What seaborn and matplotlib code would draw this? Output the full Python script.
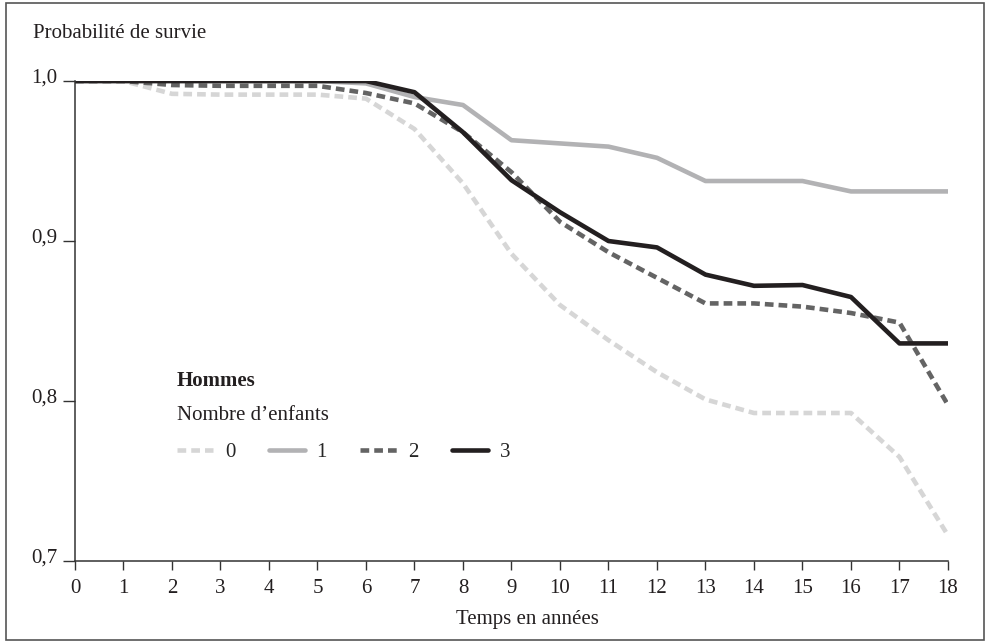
import numpy as np
import pandas as pd
import matplotlib
matplotlib.use("Agg")
import matplotlib.pyplot as plt
import matplotlib.transforms as mtransforms
from matplotlib.lines import Line2D
from matplotlib.patches import Rectangle
import seaborn as sns

# données
annees = list(range(19))
enfants_0 = [1.0, 1.0, 0.992, 0.9915, 0.9915, 0.9915, 0.989, 0.970, 0.936, 0.892,
             0.860, 0.838, 0.818, 0.801, 0.7925, 0.7925, 0.7925, 0.765, 0.716]
enfants_1 = [1.0, 1.0, 1.0, 1.0, 1.0, 1.0, 0.9985, 0.990, 0.985, 0.963,
             0.961, 0.959, 0.952, 0.9375, 0.9375, 0.9375, 0.931, 0.931, 0.931]
enfants_2 = [1.0, 1.0, 0.9975, 0.997, 0.997, 0.997, 0.9925, 0.986, 0.968, 0.943,
             0.912, 0.893, 0.877, 0.861, 0.861, 0.859, 0.855, 0.849, 0.7975]
enfants_3 = [1.0, 1.0, 1.0, 1.0, 1.0, 1.0, 1.0, 0.993, 0.968, 0.938,
             0.918, 0.900, 0.896, 0.879, 0.872, 0.8725, 0.865, 0.836, 0.836]
niveaux = ["0", "1", "2", "3"]
couleurs = ["#d6d6d6", "#b2b2b4", "#646464", "#231f20"]
y_ticks = [0.7, 0.8, 0.9, 1.0]
y_labels = ["0,7", "0,8", "0,9", "1,0"]

df = pd.DataFrame({
    "annee": annees * 4,
    "prob": enfants_0 + enfants_1 + enfants_2 + enfants_3,
    "enfants": [n for n in niveaux for _ in annees],
})

sns.set_style("ticks")
plt.rcParams["font.family"] = ["Liberation Serif", "DejaVu Serif"]
fs = 15
texte = "#231f20"

fig = plt.figure(figsize=(9.88, 6.43), dpi=100)
ax = fig.add_axes([0.0759, 0.1275, 0.8836, 0.7465])

palette = dict(zip(niveaux, couleurs))
tirets = {"0": (1.9, 1.1), "1": "", "2": (1.9, 1.1), "3": ""}
lw = 3.3
sns.lineplot(data=df, x="annee", y="prob", hue="enfants", style="enfants",
             palette=palette, dashes=tirets, linewidth=lw, ax=ax, legend=False)

ax.set_xlim(0, 18)
ax.set_ylim(0.7, 1.0)
ax.set_xticks(annees)
ax.set_xticklabels([str(a) for a in annees])
ax.set_yticks(y_ticks)
ax.set_yticklabels(y_labels)
ax.tick_params(axis="x", length=6.5, width=1, color="#333333", pad=6.5,
               labelsize=fs, labelcolor=texte)
ax.tick_params(axis="y", length=8.5, width=1, color="#333333", pad=4,
               labelsize=fs, labelcolor=texte)
decal = mtransforms.ScaledTranslation(0, 5 / 100, fig.dpi_scale_trans)
for lab in ax.get_yticklabels():
    lab.set_transform(lab.get_transform() + decal)
for s in ["top", "right"]:
    ax.spines[s].set_visible(False)
for s in ["left", "bottom"]:
    ax.spines[s].set_color("#333333")
    ax.spines[s].set_linewidth(1.1)
ax.set_xlabel("Temps en années", fontsize=fs, color=texte)
ax.xaxis.set_label_coords((527 - 75) / 873, -0.102)
ax.set_ylabel("")
fig.text(33 / 988, 1 - 33 / 643, "Probabilité de survie", ha="left", va="center",
         fontsize=fs, color=texte)

# légende
x0 = (177 - 75) / 873
ax.text(x0, (561 - 381) / 480, "Hommes", transform=ax.transAxes,
        fontsize=fs, fontweight="bold", va="center", color=texte)
ax.text(x0, (561 - 415) / 480, "Nombre d\u2019enfants", transform=ax.transAxes,
        fontsize=fs, va="center", color=texte)
handles = []
for n in niveaux:
    d = tirets[n]
    h = Line2D([0], [0], color=palette[n], linewidth=lw,
               linestyle=(0, d) if d else "-")
    handles.append(h)
ax.legend(handles, niveaux, loc="center left", ncol=4, frameon=False,
          bbox_to_anchor=(x0, (561 - 452) / 480), borderpad=0,
          borderaxespad=0, handlelength=1.75, handletextpad=0.55,
          columnspacing=1.6, fontsize=fs)

# cadre
fig.patches.append(Rectangle((6 / 988, 3 / 643), 978 / 988, 637 / 643,
                             transform=fig.transFigure, fill=False,
                             edgecolor="#555555", linewidth=1.2))

fig.savefig("out.png", dpi=100)
